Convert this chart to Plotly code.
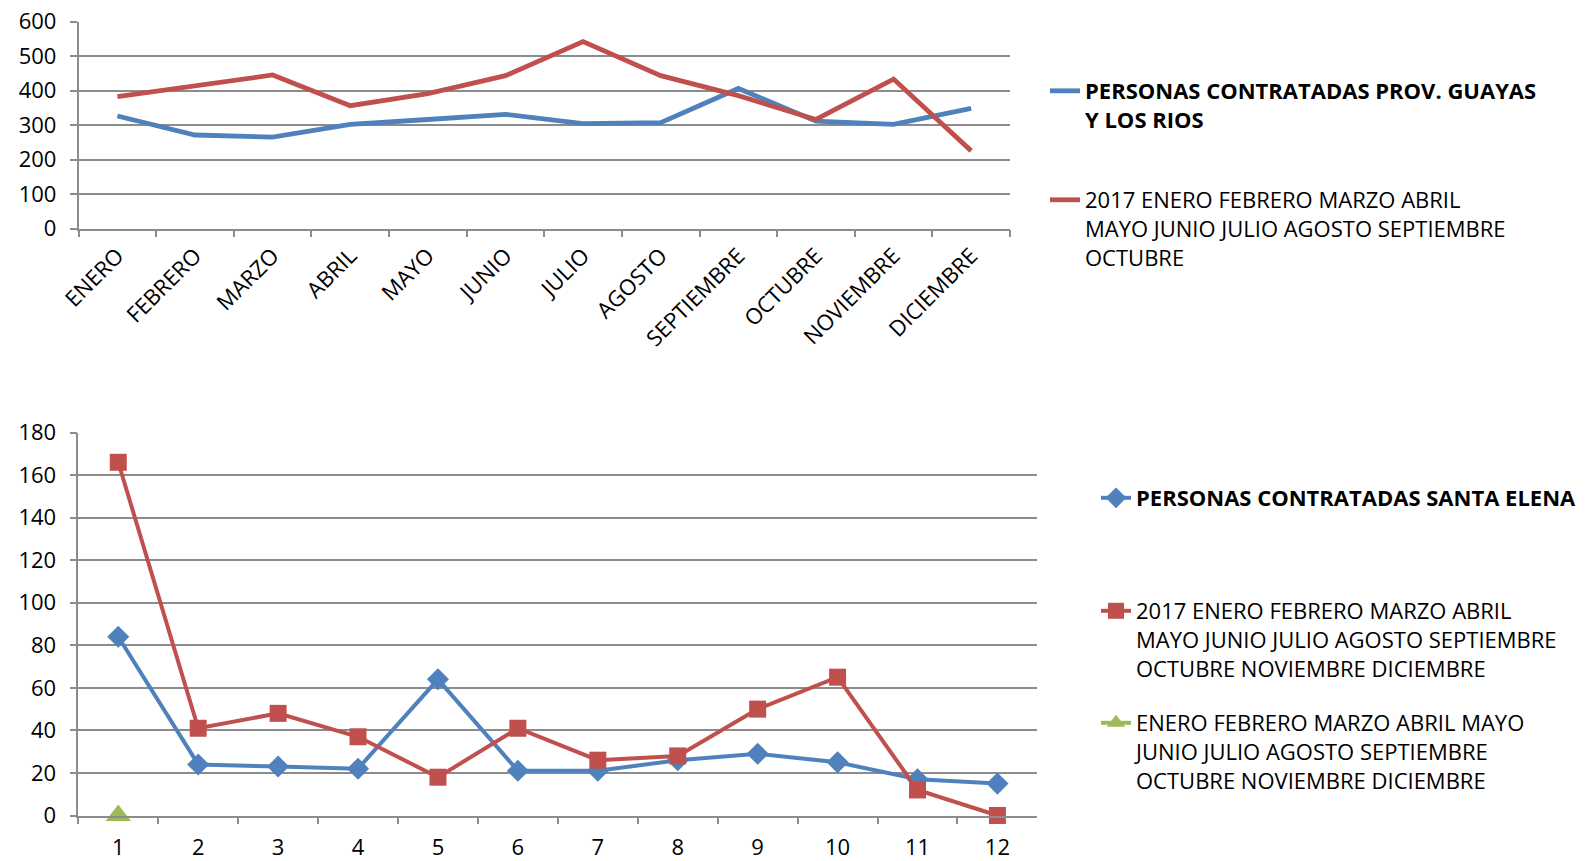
import plotly.graph_objects as go

W, H = 1591, 861

meses = ["ENERO", "FEBRERO", "MARZO", "ABRIL", "MAYO", "JUNIO", "JULIO",
         "AGOSTO", "SEPTIEMBRE", "OCTUBRE", "NOVIEMBRE", "DICIEMBRE"]
guayas_contratadas = [326, 271, 265, 302, 316, 331, 304, 307, 406, 311, 302, 348]
guayas_2017 = [382, 413, 445, 356, 391, 443, 542, 443, 385, 316, 433, 225]

numeros = ["1", "2", "3", "4", "5", "6", "7", "8", "9", "10", "11", "12"]
santa_elena_contratadas = [84, 24, 23, 22, 64, 21, 21, 26, 29, 25, 17, 15]
santa_elena_2017 = [166, 41, 48, 37, 18, 41, 26, 28, 50, 65, 12, 0]
santa_elena_otro = [0, None, None, None, None, None, None, None, None, None, None, None]

name_top_1 = "<b>PERSONAS CONTRATADAS PROV. GUAYAS</b><br><b>Y LOS RIOS</b>"
name_top_2 = "2017 ENERO FEBRERO MARZO ABRIL<br>MAYO JUNIO JULIO AGOSTO SEPTIEMBRE<br>OCTUBRE"
name_bot_1 = "<b>PERSONAS CONTRATADAS SANTA ELENA</b>"
name_bot_2 = "2017 ENERO FEBRERO MARZO ABRIL<br>MAYO JUNIO JULIO AGOSTO SEPTIEMBRE<br>OCTUBRE NOVIEMBRE DICIEMBRE"
name_bot_3 = "ENERO FEBRERO MARZO ABRIL MAYO<br>JUNIO JULIO AGOSTO SEPTIEMBRE<br>OCTUBRE NOVIEMBRE DICIEMBRE"

BLUE, RED, GREEN = "#4F81BD", "#C0504D", "#9BBB59"
GRID = "#8C8C8C"
FONT = "'Open Sans', Lato, sans-serif"
FS = 22

def px(x):
    return x / W

def py(y):
    return 1 - y / H

fig = go.Figure()

fig.add_trace(go.Scatter(x=meses, y=guayas_contratadas, mode="lines", name=name_top_1,
                         line=dict(color=BLUE, width=4.8), xaxis="x", yaxis="y", legend="legend"))
fig.add_trace(go.Scatter(x=meses, y=guayas_2017, mode="lines", name=name_top_2,
                         line=dict(color=RED, width=4.8), xaxis="x", yaxis="y", legend="legend2"))

fig.add_trace(go.Scatter(x=numeros, y=santa_elena_contratadas, mode="lines+markers", name=name_bot_1,
                         line=dict(color=BLUE, width=4), marker=dict(symbol="diamond", size=17, color=BLUE),
                         xaxis="x2", yaxis="y2", legend="legend3", cliponaxis=False))
fig.add_trace(go.Scatter(x=numeros, y=santa_elena_2017, mode="lines+markers", name=name_bot_2,
                         line=dict(color=RED, width=4), marker=dict(symbol="square", size=17, color=RED),
                         xaxis="x2", yaxis="y2", legend="legend4", cliponaxis=False))
fig.add_trace(go.Scatter(x=numeros, y=santa_elena_otro, mode="lines+markers", name=name_bot_3,
                         line=dict(color=GREEN, width=4), marker=dict(symbol="triangle-up", size=22, color=GREEN),
                         xaxis="x2", yaxis="y2", legend="legend5", cliponaxis=False))

axis_common = dict(showline=True, linecolor=GRID, linewidth=1.5, ticks="outside", tickcolor=GRID,
                   ticklen=7, tickwidth=1.5, automargin=False,
                   tickfont=dict(family=FONT, size=FS, color="black"))

fig.update_layout(
    width=W, height=H,
    showlegend=True,
    margin=dict(l=0, r=0, t=0, b=0, autoexpand=False),
    paper_bgcolor="white", plot_bgcolor="white",
    font=dict(family=FONT, size=FS, color="black"),
    xaxis=dict(domain=[px(78.6), px(1010)], type="category", tickson="boundaries",
               range=[-0.5, 11.5], tickangle=-45, showgrid=False, anchor="y",
               ticklabelstandoff=4, **axis_common),
    yaxis=dict(domain=[py(228.5), py(21.5)], range=[0, 600], dtick=100, tick0=0, showgrid=True,
               gridcolor=GRID, gridwidth=1.5, anchor="x", ticklabelstandoff=9, **axis_common),
    xaxis2=dict(domain=[px(78.3), px(1037.4)], type="category", tickson="boundaries",
                range=[-0.5, 11.5], showgrid=False, anchor="y2", ticklabelstandoff=11, **axis_common),
    yaxis2=dict(domain=[py(815.5), py(432.5)], range=[0, 180], dtick=20, showgrid=True,
                gridcolor=GRID, gridwidth=1.5, anchor="x2", ticklabelstandoff=9, **axis_common),
)

leg = dict(xanchor="left", yanchor="top", valign="top", bgcolor="rgba(0,0,0,0)",
           font=dict(family=FONT, size=FS, color="black"), itemwidth=30, visible=True)
fig.update_layout(
    legend=dict(x=px(1045), y=py(70), **leg),
    legend2=dict(x=px(1045), y=py(179), **leg),
    legend3=dict(x=px(1096), y=py(477), **leg),
    legend4=dict(x=px(1096), y=py(590), **leg),
    legend5=dict(x=px(1096), y=py(702), **leg),
)

fig.write_html("out.html", config={"displayModeBar": False},
               post_script="document.body.style.margin='0px';document.body.style.overflow='hidden';")
